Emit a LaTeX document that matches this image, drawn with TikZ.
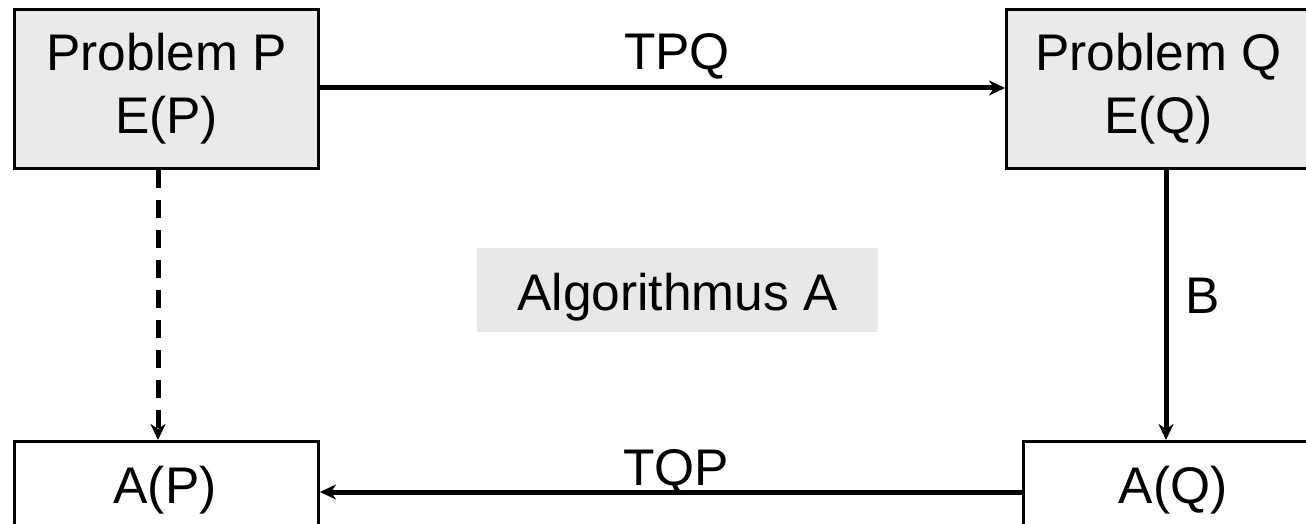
\documentclass[tikz,border=0pt]{standalone}
\usepackage{fontspec}
\setmainfont{Liberation Sans}
\usetikzlibrary{arrows.meta}
\definecolor{boxgray}{HTML}{EAEAEA}
\definecolor{labgray}{HTML}{E8E8E8}
\tikzset{
  every node/.style={font=\fontsize{51.5}{63}\selectfont},
  probbox/.style={draw=black, line width=3pt, fill=boxgray, minimum width=304pt, minimum height=159pt, align=center, inner sep=0pt, anchor=north west},
  resbox/.style={draw=black, line width=3pt, fill=white, minimum width=304pt, minimum height=110pt, inner sep=0pt, anchor=north west},
  lab/.style={anchor=base, inner sep=0pt},
  conn/.style={line width=5pt, -{Stealth[length=16pt,width=15pt,inset=5pt]}},
  dconn/.style={conn, dash pattern=on 18pt off 12pt},
}
\begin{document}
\begin{tikzpicture}[x=1pt,y=-1pt]
\useasboundingbox (0,0) rectangle (1306,524);
\clip (0,0) rectangle (1306,524);
\node[probbox] (P) at (13,8) {Problem P\\E(P)};
\node[probbox] (Q) at (1005,8) {Problem Q\\E(Q)};
\node[resbox] (AP) at (13,440) {};
\node[resbox] (AQ) at (1022,440) {};
\node[lab] (APt) at (165,503) {A(P)};
\node[lab] (AQt) at (1173,503) {A(Q)};
\node[fill=labgray, minimum width=401pt, minimum height=84pt, inner sep=0pt] (ALG) at (677.5,290) {};
\node[lab] (ALGt) at (677.5,310) {Algorithmus A};
\draw[conn] (P.east |- 0,88) -- (Q.west |- 0,88);
\node[lab] (TPQ) at (677,70) {TPQ};
\draw[dconn] ([xshift=145pt]P.south west) -- ([xshift=145pt]AP.north west);
\draw[conn] ([xshift=161pt]Q.south west) -- ([xshift=144pt]AQ.north west);
\node[lab, anchor=base west] (B) at (1185,313) {B};
\draw[conn] (AQ.west |- 0,492) -- (AP.east |- 0,492);
\node[lab] (TQP) at (676,485) {TQP};
\end{tikzpicture}
\end{document}
